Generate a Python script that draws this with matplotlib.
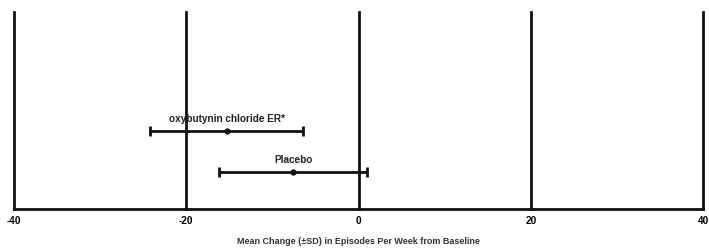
import numpy as np
import matplotlib
matplotlib.use('Agg')
import matplotlib.pyplot as plt

# data
groups = ['Placebo', 'oxybutynin chloride ER*']
mean_change = [-7.6, -15.3]
sd = [8.6, 8.9]
xticks = [-40, -20, 0, 20, 40]

plt.rcParams['font.family'] = ['Liberation Sans', 'DejaVu Sans']

fig = plt.figure(figsize=(7.09, 2.5), dpi=100)
ax = fig.add_axes([0.0197, 0.164, 0.972, 0.788])

ypos = np.arange(len(groups))

#vertical grid lines
for t in xticks:
    ax.axvline(t, color='#111111', lw=2.0, zorder=1, clip_on=False)

ax.errorbar(mean_change, ypos, xerr=sd, fmt='o', color='#111111', ms=3.5,
            ecolor='#111111', elinewidth=2.0, capsize=3.8, capthick=2.0, zorder=3)

for m, y, name in zip(mean_change, ypos, groups):
    ax.annotate(name, (m, y), xytext=(0, 5), textcoords='offset points',
                ha='center', va='bottom', fontsize=7.2, fontweight='bold', color='#222222')

ax.set_xlim(-40, 40)
ax.set_ylim(-0.9, 3.9)
ax.set_xticks(xticks)
ax.set_xticklabels([str(t) for t in xticks], fontsize=7.2, fontweight='bold')
ax.set_yticks([])
ax.tick_params(axis='x', length=0, pad=5)
for s in ['top', 'right', 'left']:
    ax.spines[s].set_visible(False)
ax.spines['bottom'].set_linewidth(2.0)
ax.spines['bottom'].set_color('#111111')
ax.set_xlabel('Mean Change (\u00b1SD) in Episodes Per Week from Baseline',
              fontsize=6.5, fontweight='bold', color='#333333', labelpad=8)

fig.savefig('out.png', dpi=100)
